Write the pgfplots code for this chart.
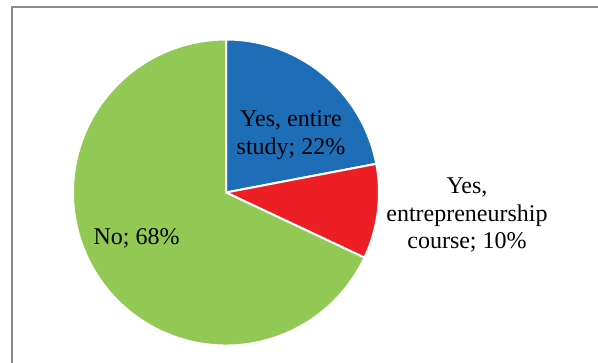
\documentclass[border=0pt]{standalone}
\usepackage{pgfplots}
\usepackage{pgfplotstable}
\pgfplotsset{compat=1.18}
\usepackage{fontspec}
\setmainfont{Liberation Serif}
\definecolor{pieblue}{RGB}{30,110,183}
\definecolor{piered}{RGB}{237,30,36}
\definecolor{piegreen}{RGB}{146,200,84}
\definecolor{frame}{RGB}{140,140,140}
\pgfplotstableread{
label value
entire 22
course 10
no 68
}\piedata
\begin{document}
\begin{tikzpicture}
\pgfplotstablegetelem{0}{value}\of\piedata\let\va\pgfplotsretval
\pgfplotstablegetelem{1}{value}\of\piedata\let\vb\pgfplotsretval
\pgfplotstablegetelem{2}{value}\of\piedata\let\vc\pgfplotsretval
\pgfmathsetmacro{\aA}{90}
\pgfmathsetmacro{\aB}{\aA-3.6*\va}
\pgfmathsetmacro{\aC}{\aB-3.6*\vb}
\pgfmathsetmacro{\aD}{\aC-3.6*\vc}
\useasboundingbox (0,0) rectangle (598pt,363pt);
\begin{axis}[hide axis, x=1pt, y=1pt, xmin=0, xmax=598, ymin=0, ymax=363,
  clip=false, anchor=origin, at={(0,0)}, overlay]
\draw[frame, line width=1.3pt] (axis cs:12,-2) -- (axis cs:12,356) -- (axis cs:600,356);
\fill[pieblue, draw=white, line width=2pt, line join=round] (axis cs:226,170.5) -- ++(\aA:153) arc[start angle=\aA, end angle=\aB, radius=153] -- cycle;
\fill[piered, draw=white, line width=2pt, line join=round] (axis cs:226,170.5) -- ++(\aB:153) arc[start angle=\aB, end angle=\aC, radius=153] -- cycle;
\fill[piegreen, draw=white, line width=2pt, line join=round] (axis cs:226,170.5) -- ++(\aC:153) arc[start angle=\aC, end angle=\aD, radius=153] -- cycle;
\begin{scope}[every node/.style={anchor=base, inner sep=0pt, font=\fontsize{24}{27.6}\selectfont}]
\node at (axis cs:291,236) {Yes, entire};
\node at (axis cs:291,208) {study; 22\%};
\node at (axis cs:467,169.5) {Yes,};
\node at (axis cs:467,141.5) {entrepreneurship};
\node at (axis cs:467,114) {course; 10\%};
\node at (axis cs:136.5,118) {No; 68\%};
\end{scope}
\end{axis}
\end{tikzpicture}
\end{document}
